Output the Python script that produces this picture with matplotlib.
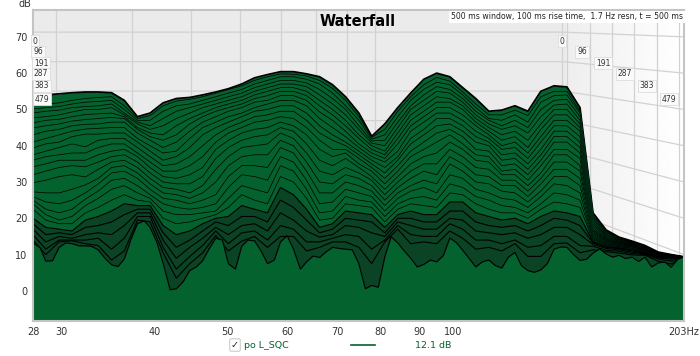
import numpy as np
import matplotlib
matplotlib.use("Agg")
import matplotlib.pyplot as plt

# frequencies (Hz), fine list; the coarse list is every second one
freqs_fine = [27.5,28.1,28.6,29.2,29.8,30.4,31.0,31.7,32.3,32.9,33.6,34.3,35.0,35.7,36.4,37.2,37.9,38.7,39.4,40.2,
              41.0,41.9,42.7,43.6,44.5,45.4,46.3,47.2,48.2,49.2,50.1,51.2,52.2,53.2,54.3,55.4,56.5,57.7,58.8,60.0,
              61.2,62.5,63.7,65.0,66.3,67.7,69.0,70.4,71.8,73.3,74.8,76.3,77.8,79.4,81.0,82.6,84.3,86.0,87.7,89.5,
              91.3,93.2,95.0,97.0,98.9,100.9,102.9,105.0,107.1,109.3,111.5,113.7,116.0,118.4,120.8,123.2,125.7,128.2,130.8,133.5,
              136.2,139.0,141.7,144.6,147.5,150.5,153.5,156.6,159.8,163.0,166.3,169.7,173.1,176.6,180.1,183.8,187.5,191.3,195.1,199.0,203.0]
freqs = freqs_fine[::2]

# outlines of the last and first slice, apparent level on the front axis
rear = [53.7,54,54.3,54.6,54.8,54.8,54.6,52.5,48,49,51.8,53,53.3,54,54.8,55.7,57,58.7,59.6,60.4,60.4,59.8,59,56.8,53.5,49,42.6,46,50.5,54.5,58.3,60,59,56,53,49.5,49.8,51,49.5,55,56.5,56.2,50.5,21.5,16.8,14.8,13.7,12.5,10.7,10,9.4]
front = [13.2,11.9,8.2,8.3,12,13.2,13,12.4,12.4,12.3,11.3,9,7.2,6.7,8.8,14.5,18.5,19.3,17.5,13.5,
         7.7,0.3,0.6,2.5,5.6,6.6,8.3,11.5,14.5,14,7.5,6,12.3,14,13.8,11,7.5,8.5,13.5,15.2,
         11.5,6,8,9.6,9.2,10.8,12,11.7,11.5,11.3,7.5,0.6,1.5,1,9.4,14.9,13.2,11,9,6.6,
         7.3,8.5,8,9.8,14.6,13.3,11.2,8.9,6.6,8,8.5,7,6.3,9.3,10.6,7,5.6,5.1,5.8,7.6,
         11.5,12.1,12,10,8.4,8.7,10.4,11.6,10.2,9.3,9.8,8.9,9.3,8.1,9.3,6.6,7.7,8,6.5,8.7,9.4]

# levels of the slices in between, read down one column at a time (one list per entry of freqs)
col_00 = [51.2,50.1,49,47.7,46.3,44.9,43,41,39.4,37.5,36,34.2,32,29.8,27.3,26,25,24,22.5,20,18.5,17,15.5,14]
col_01 = [51.5,50.5,49.5,48,47,45.5,44,42,40.5,38.5,37,35,33,30.5,27,24.5,22.5,21,19.5,17.5,15.5,13.5,11.5,10]
col_02 = [51.8,50.8,49.8,48.5,47.3,46,44.5,43,41,39.5,37.5,36,34,31.5,27,24,21.5,19.5,18.5,17,16,15,14,13.5]
col_03 = [52.5,51.5,50.5,49.3,48,46.8,45.5,44,42.5,40.5,38,36,34.5,32,28,25,22.5,20.5,18.5,16.5,15.5,14.5,14,13.8]
col_04 = [53,52,50.8,50,48.6,47.2,45.9,44.6,43.2,39.7,38,36,34.2,31.4,29.2,27,25.3,23.5,21.5,19.5,17.5,15.5,14,13]
col_05 = [53.3,52.2,51,50,48.8,47.5,46,44.8,43.2,41.5,39.5,37.5,35.5,33.5,31,29.5,27.5,25.5,23,20.5,18,16,14.5,12.5]
col_06 = [53.5,52.5,51.5,50.5,49,47.8,46.5,45,43.5,42,40.5,38.5,37,35.5,34,32.5,30.5,28,25,22,19,15.5,11.5,8.5]
col_07 = [51,50,49,48.5,48,47.5,46.5,45,43.5,42,40.5,39,37.5,36,34.5,33,31,29,26.5,24,21,18,14.5,11]
col_08 = [47.5,47,46.5,46,45,44.5,43.5,42,41,39.5,38,37,35.5,34,32.5,31,29,27,25,23.5,22.5,21.5,20.5,19.5]
col_09 = [48.3,47,45.5,44.5,43.5,42.5,41.5,40,38.5,37,35.5,34,32.5,31,29.5,28,26.5,25.5,24.5,23.5,22.5,21.5,20.5,19]
col_10 = [51,49.5,47.5,45.5,43,41.5,39.5,38,36,34.5,33,31.5,30,28.5,27,25.5,24,22,20,18,16,14,12,10.5]
col_11 = [52.3,51,49.5,47.5,45.5,43,41,38.5,37,35,33,31,29.5,28,26.5,25,23,21,18.5,15.5,12,9,6,3.5]
col_12 = [52.8,51.5,50.5,49,47.5,46,44,42,39.5,37,34.5,32,29.5,27,25.5,24,22.5,21,19,16.5,14,12,9.5,7.5]
col_13 = [53.5,52.5,51.5,50.5,49,48,46.5,45,43,40,37,34,31.5,29,27,25,23,21.5,20,18.5,16.5,14.5,12.5,10.5]
col_14 = [54.5,53.5,52.5,51.5,50.5,49.5,48,46.5,45,43,41,39,36.5,33.5,30,26.5,24,22,21,20,19,17.5,16.5,15.3]
col_15 = [55.5,54.5,53.5,52.5,51.5,50.5,49.5,48,46.5,45,43.5,41.5,39.5,37,34.5,31.5,28.5,25.5,23,20.5,18,15.5,13,11]
col_16 = [56.5,55.5,54.5,53.5,52.5,51.5,50.5,49,48,46.5,45,43.5,41.5,39.5,37,34.5,32,29,26.5,23.5,20.5,18,16,13.7]
col_17 = [58,57,56,55,54,53,52,50.5,49.5,48,46.5,44.5,42.5,40,37.5,34.5,31.5,28,25,22.5,20.5,18.5,16.5,15]
col_18 = [59,58,57,56,55,53.8,52.5,51.5,50,48.5,47,45,43,40.5,37.5,34,30.5,27,24,21.5,19,16.5,14,12]
col_19 = [59.8,59,58,57,56,55,53.8,52.5,51,49.5,48,46.5,45,43.5,41.5,39.5,37,34.5,31.5,28.5,25,21.5,18,15]
col_20 = [59.7,59,58,57,56,55,53.8,52.5,51,49.5,47.5,45.5,44,42,40,38,35.5,33,30,26.5,23,19.5,17,15]
col_21 = [59.2,58.3,57.3,56.3,55,53.8,52.5,51,49,47,45,43,40.5,38,35.5,33,30.5,28,25.5,22.5,19.5,16.5,13.5,11]
col_22 = [58,57,55.5,54,52.5,51,49.3,47.5,45.5,43.5,41.5,39,36,33,30,27,24,21.5,19.5,17.5,16,14.8,13.5,12]
col_23 = [55.8,54.5,53,51.5,50,48.5,47,45,43,41.5,39,37,34.5,32,29.5,27,24.5,22,20,18.5,17,15.5,14.5,13.5]
col_24 = [52.5,51,50,48.5,47,45.5,44,42.5,41,40,39,38,36.5,34,32,30,28,26,24,22,20,18,15.5,13.5]
col_25 = [48,47,45.5,44.5,43,42,40.5,39.5,38.5,37.5,36.5,35,34,32.5,31,29,27,25,23.5,21.5,19.5,17.5,15,12]
col_26 = [42.3,41.8,41.3,40.7,40,39,38,37,36,35,34,33,31.5,30.5,29,27.5,26,24.5,23,21,19,16,11.5,7.5]
col_27 = [44.5,43,41.5,40,38.5,37.5,36.5,35.5,34,32.5,31,29.5,28,26.5,25,23.5,22,20.5,19,17.5,16,15,14,13.5]
col_28 = [49.5,48,46.5,45,43.5,42,40.5,38.5,37,36,34.5,33,31.5,30,28.5,27,25.5,24,22.5,21,20,19,18,17]
col_29 = [53.5,52.5,51,50,48.5,47,45.5,44,42,40.5,38.5,37,35,33,31,29,27.5,25.5,24,22,20,18,15.5,13]
col_30 = [56.8,55.5,54,52.5,51,49.5,48,46.5,44.5,43,41,39,37,35,33,30.5,28.5,26,23.5,21,19,17,15,13.5]
col_31 = [58.8,57.5,56.3,55,53.5,52,50.5,49,47.5,45.5,43.5,41,38,35,32,29.5,27,25,23,21,19,17,15,13]
col_32 = [57.8,56.8,55.5,54.5,53,52,50.5,49,47.5,46,44.5,43,41,39,37,35,32,29.5,27,24.5,22,20,18.5,16.5]
col_33 = [54.8,54,53,52,51,50,48.5,47,45.5,44,42.5,40.5,39,37,35,33,31,28.5,26.5,24.5,22,19.5,17,14.5]
col_34 = [51.5,50.5,49.5,48.5,47.5,46.5,45.5,44,42.5,41,39,37.5,36,34,32,30,28,26,24,21.5,19,16.5,14,11.5]
col_35 = [48.5,47.5,47,46,45,44,43,42,41,40,38.5,37,35.5,33.5,31.5,29.5,27,25,22.5,20.5,18,16,14,12]
col_36 = [48.5,47,45.5,44.5,43,41.5,40,39,37.5,36,34.5,33,32,30.5,29,27.5,25.5,23.5,21.5,19.5,17.5,15.5,13,11]
col_37 = [49.8,48.5,47,45.5,44,42.5,41,39.5,38,36.5,35,33.5,32,30.5,29,27,25,23,21.5,20,18,16,14,13]
col_38 = [48.3,46.5,45,43.5,41.5,39.5,38,36.5,35,33.5,32,30.5,29,27.5,26,24.5,23,21.5,20,18.5,16.5,14.5,12,9.5]
col_39 = [53.5,52,50,48,46,44.5,42.5,41,39,37.5,36,34.5,32.5,31,29.5,27.5,26,24,22.5,20.5,18,15.5,12.5,9.5]
col_40 = [55,53.8,52.5,51.2,50,48.5,47,45.5,44,42.5,41,39,37.5,35.5,33.5,31.5,29.5,27,24.5,22,20,17.5,15,13]
col_41 = [55,54,52.8,51.5,50,48.5,47,45.5,44,42.5,41,39,37.5,35.5,33.5,31.5,29,26.5,24,21.5,19.5,17.5,15,13.2]
col_42 = [49.5,49,48,47,46,45,44,42.5,41,39.5,38,36.5,34.5,33,31,29,27,25,23,20.5,18,15.5,12.5,10.5]
col_43 = [21,20.5,20,19.5,19,18.5,18,17.5,17,16.7,16.4,16,15.7,15.4,15,14.7,14.4,14.1,13.8,13.5,13.2,12.8,12.3,11.3]
col_44 = [16.5,16.2,16,15.7,15.4,15.1,14.9,14.6,14.4,14.2,14,13.8,13.6,13.4,13.2,13,12.8,12.6,12.4,12.2,12,11.7,11.2,10.8]
col_45 = [14.6,14.4,14.3,14.1,14,13.8,13.7,13.5,13.4,13.2,13.1,13,12.8,12.7,12.5,12.4,12.2,12.1,11.9,11.8,11.6,11.3,10.9,10.4]
col_46 = [13.5,13.4,13.3,13.2,13.1,13,12.9,12.8,12.7,12.6,12.5,12.4,12.3,12.2,12.1,12,11.8,11.7,11.5,11.3,11,10.7,10.3,9.9]
col_47 = [12.3,12.2,12.1,12,11.9,11.8,11.7,11.6,11.5,11.4,11.3,11.2,11.1,11,10.9,10.8,10.7,10.6,10.5,10.4,10.3,10.2,10,9.8]
col_48 = [10.6,10.6,10.5,10.5,10.4,10.4,10.3,10.3,10.2,10.2,10.1,10.1,10,10,9.9,9.8,9.7,9.6,9.5,9.4,9.3,9.1,8.8,8.2]
col_49 = [10,10,9.9,9.9,9.9,9.8,9.8,9.8,9.7,9.7,9.7,9.6,9.6,9.6,9.5,9.5,9.4,9.3,9.2,9.1,9,8.7,8.2,7.4]
col_50 = [9.4,9.4,9.4,9.4,9.4,9.4,9.4,9.4,9.4,9.4,9.4,9.4,9.4,9.4,9.4,9.4,9.4,9.4,9.4,9.4,9.4,9.4,9.4,9.4]

columns = [col_00,col_01,col_02,col_03,col_04,col_05,col_06,col_07,col_08,col_09,col_10,
           col_11,col_12,col_13,col_14,col_15,col_16,col_17,col_18,col_19,col_20,
           col_21,col_22,col_23,col_24,col_25,col_26,col_27,col_28,col_29,col_30,
           col_31,col_32,col_33,col_34,col_35,col_36,col_37,col_38,col_39,col_40,
           col_41,col_42,col_43,col_44,col_45,col_46,col_47,col_48,col_49,col_50]
mid_slices = np.array(columns).T

x_ticks = [27.5, 30, 40, 50, 60, 70, 80, 90, 100, 203]
x_labels = ["28", "30", "40", "50", "60", "70", "80", "90", "100", "203Hz"]
y_ticks = [0, 10, 20, 30, 40, 50, 60, 70]
time_labels = ["0", "96", "191", "287", "383", "479"]
legend_value = "12.1 dB"

GREEN = "#03622e"
GRID = "#d2d2d2"
W, H = 700, 356
XMIN, XMAX = 27.5, 203
YMIN, YMAX = -8.3, 77.4

fig = plt.figure(figsize=(W / 100, H / 100), dpi=100)
rect = [33 / W, (H - 321) / H, 651 / W, 311 / H]

# background: flat rear wall, side wall fading to white
bg = fig.add_axes(rect, zorder=0)
bg.set_axis_off()
shade = np.linspace(0, 1, 256).reshape(1, -1)
bg.imshow(shade, extent=[566, 684, 0, 1], aspect="auto", cmap="gray", vmin=-14, vmax=1)
bg.axvspan(33, 566, color="#ebebeb", lw=0)
bg.set_xlim(33, 684)
bg.set_ylim(0, 1)

ax = fig.add_axes(rect, zorder=1)
ax.patch.set_alpha(0)
ax.set_xscale("log")
ax.set_xlim(XMIN, XMAX)
ax.set_ylim(YMIN, YMAX)


def rear_freq(f):
    frac = np.log(f / XMIN) / np.log(XMAX / XMIN)
    return XMIN * (XMAX / XMIN) ** (frac * 529 / 650)


def rear_db(d):
    return 71.3 - (70 - d) * 0.8126


# rear wall and side wall grid
corner = rear_freq(XMAX)
for d in y_ticks:
    ax.plot([XMIN, corner, XMAX], [rear_db(d), rear_db(d), d], color=GRID, lw=0.9, zorder=1)
for f in x_ticks[1:-1]:
    ax.plot([rear_freq(f), rear_freq(f)], [YMIN, YMAX], color=GRID, lw=0.9, zorder=1)
for f in [139.7, 141.7, 151.9, 162.8, 174, 187, 200]:
    ax.plot([f, f], [YMIN, YMAX], color=GRID, lw=0.9, zorder=1)

# slices, back to front
z = 2
ax.fill_between(freqs, YMIN, rear, color=GREEN, lw=0, zorder=z)
ax.plot(freqs, rear, color="black", lw=1.3, zorder=z)
for i, vals in enumerate(mid_slices):
    z += 1
    late = i >= 19
    ax.fill_between(freqs, YMIN, vals, color="#0a4425" if late else GREEN, lw=0, zorder=z)
    ax.plot(freqs, vals, color="black", lw=0.8 if late else 0.5, zorder=z)
z += 1
ax.fill_between(freqs_fine, YMIN, front, color=GREEN, lw=0, zorder=z)
ax.plot(freqs_fine, front, color="black", lw=0.8, zorder=z)

ax.set_xticks(x_ticks)
ax.set_xticklabels(x_labels)
ax.minorticks_off()
ax.set_yticks(y_ticks)
ax.tick_params(length=0, labelsize=7, colors="#333333", pad=4)
for s in ax.spines.values():
    s.set_color("#c4c4c4")
    s.set_linewidth(1.5)
    s.set_zorder(100)


def px(x, y):
    return x / W, 1 - y / H


fig.text(*px(358, 21), "Waterfall", fontsize=10.5, fontweight="bold", ha="center", va="center", zorder=5)
fig.text(*px(683, 17), "500 ms window, 100 ms rise time,  1.7 Hz resn, t = 500 ms", fontsize=5.55, ha="right", va="center",
         zorder=5, color="#222222", bbox=dict(fc="white", ec="none", pad=1.2))
fig.text(*px(25, 4), "dB", fontsize=7, color="#333333", ha="center", va="center", zorder=5)

left_pos = [(35, 41), (38, 52), (41, 63), (41, 74), (42, 86), (42, 99)]
right_pos = [(562, 41), (582, 52), (603, 63), (625, 74), (647, 86), (669, 99)]
for lab, p, q in zip(time_labels, left_pos, right_pos):
    for xy in (p, q):
        fig.text(*px(*xy), lab, fontsize=5.5, color="#333333", ha="center", va="center", zorder=6,
                 bbox=dict(fc="#fafafa", ec="#dddddd", lw=0.6, pad=1.3))

# legend row
fig.text(*px(235, 345), "\u2713", fontsize=7, ha="center", va="center", color="#222222", zorder=5,
         bbox=dict(fc="white", ec="#bbbbbb", lw=0.6, pad=1, boxstyle="round,pad=0.12"))
fig.text(*px(244, 346), "po L_SQC", fontsize=6.8, color=GREEN, ha="left", va="center", zorder=5)
fig.add_artist(plt.Line2D([351 / W, 375 / W], [1 - 345 / H] * 2, color=GREEN, lw=1.2))
fig.text(*px(415, 345), legend_value, fontsize=6.8, color=GREEN, ha="left", va="center", zorder=5)

fig.savefig("out.png", dpi=100)
